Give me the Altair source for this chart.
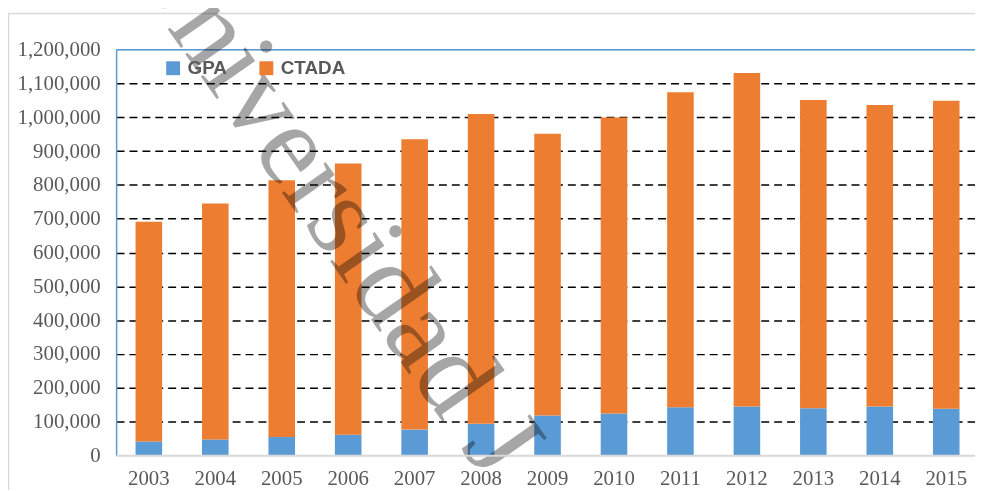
import altair as alt
import pandas as pd

# ---- data ----
years = ["2003", "2004", "2005", "2006", "2007", "2008", "2009",
         "2010", "2011", "2012", "2013", "2014", "2015"]
gpa = [41000, 47000, 54000, 61000, 76000, 93000, 118000,
       124000, 142000, 144000, 139000, 144000, 138000]
ctada = [650000, 698000, 760000, 802000, 859000, 917000, 833000,
         875000, 932000, 987000, 912000, 892000, 911000]
series_names = ["GPA", "CTADA"]
series_colors = ["#5B9BD5", "#ED7D31"]
y_ticks = [0, 100000, 200000, 300000, 400000, 500000, 600000,
           700000, 800000, 900000, 1000000, 1100000, 1200000]
watermark = "Universidad J"

rows = []
for i, yr in enumerate(years):
    rows.append({"year": yr, "series": "GPA", "value": gpa[i], "ord": 0})
    rows.append({"year": yr, "series": "CTADA", "value": ctada[i], "ord": 1})
df = pd.DataFrame(rows)

W, H = 866, 409
SERIF = "Liberation Serif"
GRAY = "#595959"

bars = alt.Chart(df).mark_bar().encode(
    x=alt.X(
        "year:O", sort=years, title=None,
        scale=alt.Scale(paddingInner=0.6, paddingOuter=0.2627, align=0.557),
        axis=alt.Axis(labelAngle=0, labelFont=SERIF, labelFontSize=21,
                      labelColor=GRAY, domainColor="#D9D9D9", domainWidth=2,
                      ticks=False, labelPadding=12, grid=False, zindex=1),
    ),
    y=alt.Y(
        "value:Q", stack="zero", title=None,
        scale=alt.Scale(domain=[0, 1200000], nice=False),
        axis=alt.Axis(values=y_ticks, labelExpr="format(datum.value, ',.0f')",
                      labelOverlap=False, labelFont=SERIF,
                      labelFontSize=21, labelColor=GRAY,
                      domainColor="#5B9BD5", domainWidth=1.5, ticks=False,
                      labelPadding=16, grid=True, gridColor="black",
                      gridDash=[8, 5], gridWidth=1.5,
                      gridOpacity={"condition": {"test": "datum.value === 0 || datum.value === 1200000", "value": 0}, "value": 1}),
    ),
    color=alt.Color(
        "series:N",
        scale=alt.Scale(domain=series_names, range=series_colors),
        legend=alt.Legend(title=None, orient="none", legendX=48, legendY=9,
                          direction="horizontal", symbolType="square",
                          symbolSize=196, symbolStrokeWidth=0,
                          labelFont="Liberation Sans", labelFontWeight="bold",
                          labelFontSize=19, labelColor=GRAY, labelOffset=5,
                          columnPadding=30, padding=0),
    ),
    order=alt.Order("ord:Q", sort="ascending"),
)

one = pd.DataFrame({"t": [watermark]})

# plot-area top border (blue) and outer chart frame (light grey)
top_rule = alt.Chart(one).mark_rule(color="#5B9BD5", strokeWidth=1.5).encode(
    x=alt.value(0), x2=alt.value(W), y=alt.value(0)
)
border = alt.Chart(one).mark_rect(
    filled=False, stroke="#D9D9D9", strokeWidth=1.5
).encode(x=alt.value(-108.5), x2=alt.value(W + 60),
         y=alt.value(-36.5), y2=alt.value(H + 100))

wm = alt.Chart(one).mark_text(
    font=SERIF, fontSize=117, angle=55, align="left", baseline="alphabetic",
    color="#A6A6A6", blend="multiply"
).encode(text="t:N", x=alt.value(2), y=alt.value(-92))

chart = alt.layer(border, bars, top_rule, wm).properties(
    width=W, height=H, autosize="none",
    padding={"left": 109, "top": 40, "right": 0, "bottom": 33},
).configure_view(stroke=None).configure(background="white")

chart.save("out.html", embed_options={"renderer": "svg", "actions": False})
